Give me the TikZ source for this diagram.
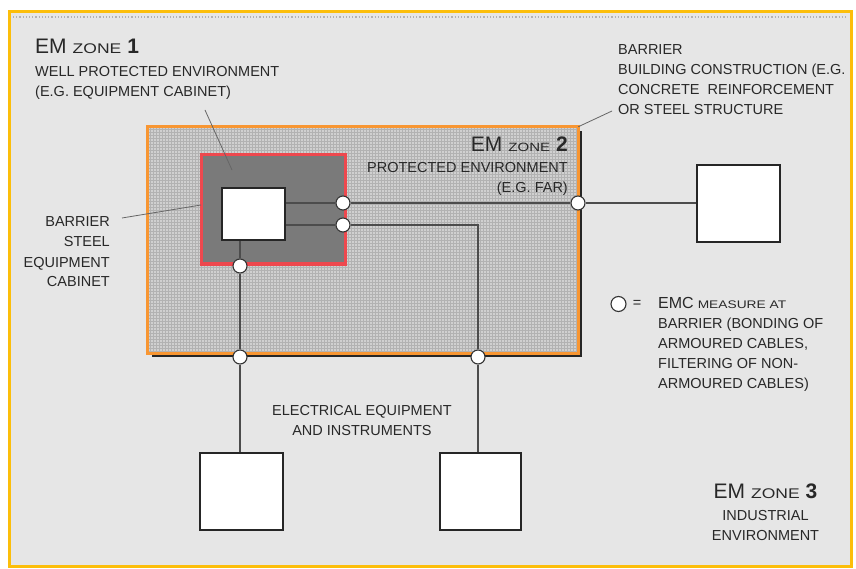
\documentclass[tikz,border=0pt]{standalone}
\usepackage{fontspec}
\setmainfont{Liberation Sans}
\newfontfamily\widesf[FakeStretch=1.25]{Liberation Sans}
\usepackage{tikz}
\usetikzlibrary{positioning, backgrounds}
\definecolor{framegold}{RGB}{252,190,10}
\definecolor{zoneorange}{RGB}{248,150,50}
\definecolor{zonered}{RGB}{238,72,78}
\definecolor{papergray}{RGB}{230,230,230}
\definecolor{gridgray}{RGB}{208,208,208}
\definecolor{gridline}{RGB}{178,178,178}
\definecolor{cabinetgray}{RGB}{122,122,122}
\definecolor{inkgray}{RGB}{40,40,40}
\newcommand{\emzone}[2]{{\fontsize{21}{21}\selectfont EM}\hspace{6pt}{\widesf\fontsize{#1}{20}\selectfont ZONE}\hspace{6pt}{\fontsize{21}{21}\selectfont\bfseries #2}}
\tikzstyle{device} = [rectangle, draw=black!85, line width=2.2pt, fill=white, inner sep=0pt]
\tikzstyle{emc} = [circle, draw=black!80, line width=1.1pt, fill=white, minimum size=14pt, inner sep=0pt]
\tikzstyle{cable} = [draw=black!70, line width=1.2pt]
\tikzstyle{leader} = [draw=black!60, line width=0.8pt]
\tikzstyle{caption} = [text=inkgray, inner sep=0pt, font=\fontsize{14.5}{20}\selectfont]
\tikzstyle{zonebox} = [rectangle, inner sep=0pt]
\pgfdeclarelayer{cables}
\pgfsetlayers{background,cables,main}

\begin{document}
\begin{tikzpicture}[x=1pt, y=-1pt]
\useasboundingbox (0,0) rectangle (856,569);

% zones
\begin{scope}[on background layer]
\fill[papergray] (9,12) rectangle (851,566);
\draw[black!30, dotted, line width=1.2pt] (13,17) -- (847,17);
\fill[black!85] (152,131) rectangle (582,357);
\node (zonetwo) [zonebox, fill=gridgray, minimum width=430pt, minimum height=226pt] at (363,240) {};
\begin{scope}
\clip (zonetwo.south west) rectangle (zonetwo.north east);
\draw[gridline, line width=0.4pt, step=3pt] (zonetwo.south west) grid (zonetwo.north east);
\end{scope}
\draw[zoneorange, line width=3pt] (zonetwo.south west) rectangle (zonetwo.north east);
\node (zoneone) [zonebox, fill=cabinetgray, draw=zonered, line width=3pt, minimum width=144pt, minimum height=109pt] at (273,209.5) {};
\draw[framegold, line width=3pt] (9,12) rectangle (851,566);
\end{scope}

% equipment
\node (core) [device, minimum width=63pt, minimum height=52pt] at (253.5,214) {};
\node (devright) [device, minimum width=83pt, minimum height=77pt] at (738.5,203.5) {};
\node (devone) [device, minimum width=83pt, minimum height=77pt] at (241.5,491.5) {};
\node (devtwo) [device, minimum width=81pt, minimum height=77pt] at (480.5,491.5) {};

% EMC measures at the barriers
\node (emcA) [emc] at (343,203) {};
\node (emcB) [emc] at (343,225) {};
\node (emcC) [emc] at (578,203) {};
\node (emcD) [emc] at (240,266) {};
\node (emcE) [emc] at (240,357) {};
\node (emcF) [emc] at (478,357) {};

\begin{pgfonlayer}{cables}
\draw [cable] (core.east |- emcA) -- (emcA) -- (emcC) -- (devright.west |- emcC);
\draw [cable] (core.east |- emcB) -- (emcB) -- (emcB -| emcF) -- (emcF) -- (emcF |- devtwo.north);
\draw [cable] (emcD |- core.south) -- (emcD) -- (emcE) -- (emcE |- devone.north);
\end{pgfonlayer}

% labels (base = last line)
\node (zoneonetitle) [caption, anchor=base west] at (35,54) {\emzone{14}{1}};
\node (zoneonetext) [caption, anchor=base west, align=left] at (35,97) {WELL PROTECTED ENVIRONMENT\\(E.G. EQUIPMENT CABINET)};
\node (zonetwotitle) [caption, anchor=base east] at (568,152) {\emzone{12}{2}};
\node (zonetwotext) [caption, anchor=base east, align=right] at (568,193) {PROTECTED ENVIRONMENT\\(E.G. FAR)};
\node (cabinettext) [caption, anchor=base east, align=right] at (110,287) {BARRIER\\STEEL\\EQUIPMENT\\CABINET};
\node (buildingtext) [caption, anchor=base west, align=left] at (618,115) {BARRIER\\BUILDING CONSTRUCTION (E.G.\\CONCRETE\ \ REINFORCEMENT\\OR STEEL STRUCTURE};
\node (equiptext) [caption, anchor=base, align=center] at (362,435) {ELECTRICAL EQUIPMENT\\AND INSTRUMENTS};
\node (zonethreetitle) [caption, anchor=base] at (765.5,498) {\emzone{14}{3}};
\node (zonethreetext) [caption, anchor=base, align=center] at (765.5,540) {INDUSTRIAL\\ENVIRONMENT};

% legend
\node (emckey) [emc, minimum size=15pt] at (618.5,304) {};
\node (equals) [caption, right=6pt of emckey] {=};
\node (emctext) [caption, anchor=base west, align=left] at (658,388) {{\fontsize{16}{20}\selectfont EMC} {\widesf\fontsize{11}{20}\selectfont MEASURE AT}\\BARRIER (BONDING OF\\ARMOURED CABLES,\\FILTERING OF NON-\\ARMOURED CABLES)};

% leader lines
\coordinate (cabinetstart) at (205,110);
\coordinate (cabinetend) at (232,170);
\coordinate (steelstart) at (122,218);
\coordinate (steelend) at (201,205);
\coordinate (buildingend) at (612,111);
\draw [leader] (cabinetstart) -- (cabinetend);
\draw [leader] (steelstart) -- (steelend);
\draw [leader] (zonetwo.north east) -- (buildingend);

\end{tikzpicture}
\end{document}
